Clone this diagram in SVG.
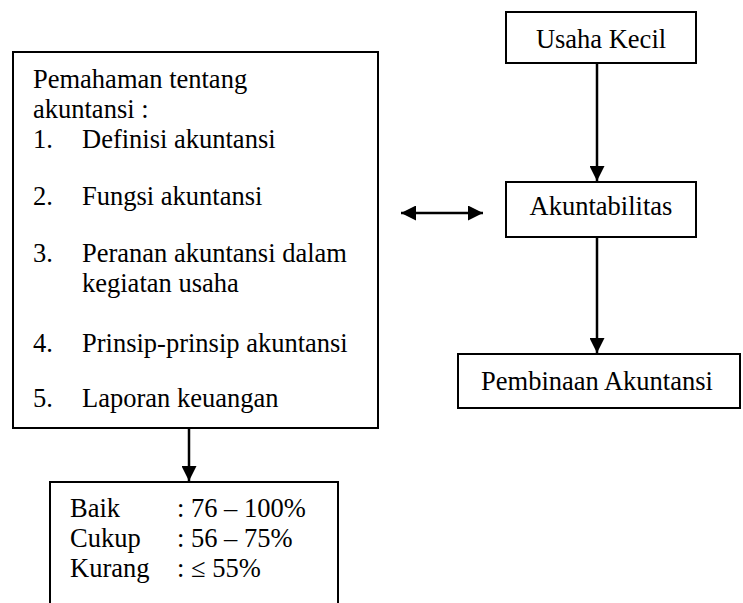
<svg xmlns="http://www.w3.org/2000/svg" width="743" height="603" viewBox="0 0 743 603">
<style>
.box{fill:#fff;stroke:#000;stroke-width:2}
.t{font-family:'Liberation Serif','Tinos','DejaVu Serif',serif;font-size:26.5px;fill:#000}
.c{stroke:#000;stroke-width:2.5;fill:none}
</style>
<defs>
<marker id="ah" viewBox="0 0 15 15" refX="15" refY="7.5" markerWidth="15" markerHeight="15" markerUnits="userSpaceOnUse" orient="auto-start-reverse">
<path d="M0,0 L15,7.5 L0,15 Z" fill="#000"/>
</marker>
</defs>
<rect width="743" height="603" fill="#fff"/>
<g id="connectors">
<line class="c" x1="597" y1="63" x2="597" y2="181" marker-end="url(#ah)"/>
<line class="c" x1="597" y1="237" x2="597" y2="353" marker-end="url(#ah)"/>
<line class="c" x1="401" y1="213" x2="483" y2="213" marker-start="url(#ah)" marker-end="url(#ah)"/>
<line class="c" x1="189" y1="428" x2="189" y2="481" marker-end="url(#ah)"/>
</g>
<g id="pemahaman">
<rect class="box" x="13" y="52" width="365" height="376"/>
<text class="t" x="33" y="88">Pemahaman tentang</text>
<text class="t" x="33" y="118">akuntansi :</text>
<text class="t" x="33" y="148">1.</text><text class="t" x="82" y="148">Definisi akuntansi</text>
<text class="t" x="33" y="205">2.</text><text class="t" x="82" y="205">Fungsi akuntansi</text>
<text class="t" x="33" y="262">3.</text><text class="t" x="82" y="262">Peranan akuntansi dalam</text>
<text class="t" x="82" y="292">kegiatan usaha</text>
<text class="t" x="33" y="352">4.</text><text class="t" x="82" y="352">Prinsip-prinsip akuntansi</text>
<text class="t" x="33" y="407">5.</text><text class="t" x="82" y="407">Laporan keuangan</text>
</g>
<g id="usaha-kecil">
<rect class="box" x="506" y="12" width="190" height="51"/>
<text class="t" x="601" y="48" text-anchor="middle">Usaha Kecil</text>
</g>
<g id="akuntabilitas">
<rect class="box" x="506" y="182" width="190" height="55"/>
<text class="t" x="601" y="215" text-anchor="middle">Akuntabilitas</text>
</g>
<g id="pembinaan">
<rect class="box" x="458" y="354" width="282" height="54"/>
<text class="t" x="597" y="390" text-anchor="middle">Pembinaan Akuntansi</text>
</g>
<g id="kategori">
<path class="box" d="M50,610 L50,482 L338,482 L338,610"/>
<text class="t" x="70" y="517">Baik</text><text class="t" x="177" y="517">: 76 – 100%</text>
<text class="t" x="70" y="547">Cukup</text><text class="t" x="177" y="547">: 56 – 75%</text>
<text class="t" x="70" y="577">Kurang</text><text class="t" x="177" y="577">: ≤ 55%</text>
</g>
</svg>
